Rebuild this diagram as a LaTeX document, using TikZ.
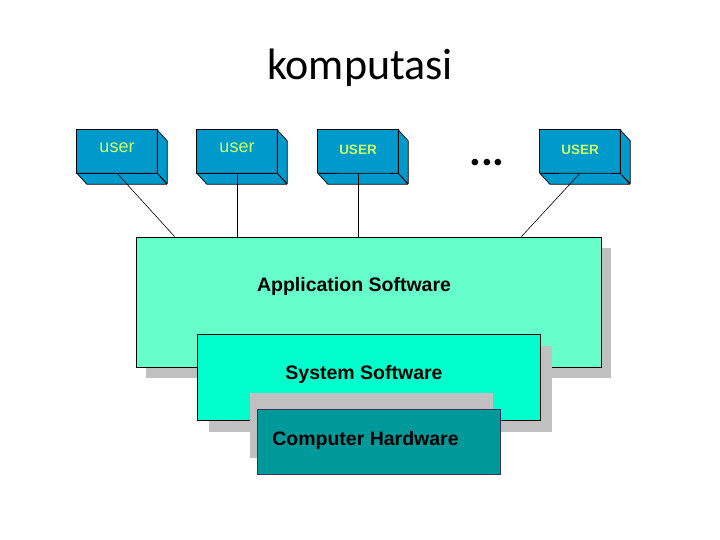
\documentclass[tikz,border=0pt]{standalone}
\usepackage{fontspec}
\setmainfont{Liberation Sans}
\newfontfamily\titlefont{Carlito}
\usetikzlibrary{shadows}
\definecolor{userblue}{HTML}{0099CC}
\definecolor{userlabel}{HTML}{CCFF66}
\definecolor{appgreen}{HTML}{66FFCC}
\definecolor{sysgreen}{HTML}{00FFCC}
\definecolor{hwteal}{HTML}{009999}
\definecolor{shadowgray}{HTML}{C0C0C0}
\definecolor{edgenavy}{HTML}{333366}
\begin{document}
\begin{tikzpicture}[x=1pt,y=-1pt,
	userface/.style={rectangle,fill=userblue,minimum width=80pt,minimum height=43pt,inner sep=0pt},
	usertext/.style={text=userlabel,inner sep=0pt,font=\fontsize{18}{18}\selectfont},
	usercaps/.style={text=userlabel,inner sep=0pt,font=\fontsize{13.5}{14}\selectfont\bfseries},
	layer/.style={rectangle,draw=black,line width=0.8pt,inner sep=0pt},
	layertext/.style={inner sep=0pt,font=\fontsize{19.5}{20}\selectfont\bfseries},
	link/.style={draw=black,line width=0.6pt}]
\useasboundingbox[fill=white] (0,0) rectangle (720,540);
\node[font=\titlefont\fontsize{44}{44}\selectfont] (title) at (360,68) {komputasi};
% user terminals
\foreach \n/\x in {u1/117,u2/237,u3/358,u4/580}{
	\node[userface] (\n) at (\x,151.5) {};
	\draw[fill=userblue,line width=0.7pt,line join=round] (\n.north east) -- ++(10,11) -- ++(0,43) -- (\n.south east) -- cycle;
	\draw[fill=userblue,line width=0.7pt,line join=round] (\n.south west) -- ++(10,11) -- ++(80,0) -- (\n.south east) -- cycle;
}
\foreach \n in {u1,u2}{
	\draw[line width=0.7pt] (\n.south west) rectangle (\n.north east);
	\node[usertext] at ([yshift=4pt]\n.center) {user};
}
\foreach \n in {u3,u4}{
	\draw[line width=0.7pt] (\n.south west) -- (\n.north west) -- (\n.north east) -- (\n.south east);
	\draw[line width=0.7pt] (\n.south west) -- ++(19,0);
	\draw[line width=0.7pt] (\n.south east) -- ++(-8,0);
	\node[usercaps] at ([yshift=1.5pt]\n.center) {USER};
}
\node[font=\titlefont\fontsize{44}{44}\selectfont\bfseries] (dots) at (487,163) {...};
% layers
\node[layer,fill=appgreen,minimum width=465pt,minimum height=130pt,
	drop shadow={shadow xshift=10pt,shadow yshift=-11pt,fill=shadowgray,opacity=1}] (app) at (368.5,302) {};
\node[layertext] (apptxt) at (354,286) {Application Software};
\draw[link] (u1.south) -- ([xshift=39pt]app.north west);
\draw[link] (u2.south) -- (u2.south |- app.north);
\draw[link] (u3.south) -- (u3.south |- app.north);
\draw[link] (u4.south) -- ([xshift=-80pt]app.north east);
\node[layer,fill=sysgreen,minimum width=343pt,minimum height=86pt,
	drop shadow={shadow xshift=12pt,shadow yshift=-12pt,fill=shadowgray,opacity=1}] (sys) at (368.5,377) {};
\node[layertext] (systxt) at (364,374) {System Software};
\node[layer,draw=edgenavy,fill=hwteal,minimum width=243pt,minimum height=65pt,
	drop shadow={shadow xshift=-7pt,shadow yshift=16pt,fill=shadowgray,opacity=1}] (hw) at (378.5,441.5) {};
\node[layertext] (hwtxt) at (365.5,440.5) {Computer Hardware};
\end{tikzpicture}
\end{document}
